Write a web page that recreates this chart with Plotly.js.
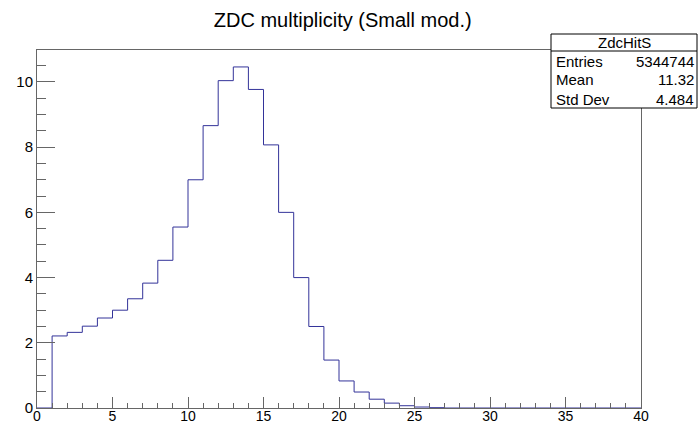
<!DOCTYPE html>
<html>
<head>
<meta charset="utf-8">
<script src="https://cdn.plot.ly/plotly-3.0.1.min.js"></script>
<style>html,body{margin:0;padding:0;background:#fff;}#plot{width:698px;height:424px;}</style>
</head>
<body>
<div id="plot"></div>
<script>
// Histogram bin edges (0..40, width 1) and bin contents
const binEdges = Array.from({length: 41}, (_, i) => i);
const binValues = [0, 2.21, 2.32, 2.51, 2.76, 3.00, 3.35, 3.83, 4.53, 5.55,
  7.00, 8.66, 10.04, 10.46, 9.77, 8.07, 6.00, 4.00, 2.50, 1.47,
  0.83, 0.49, 0.27, 0.15, 0.07, 0.03, 0.01, 0, 0, 0,
  0, 0, 0, 0, 0, 0, 0, 0, 0, 0];
const titleText = "ZDC multiplicity (Small mod.)";
const statsName = "ZdcHitS";
const statsLabels = ["Entries", "Mean", "Std Dev"];
const statsValues = ["5344744", "11.32", "4.484"];

const xs = binEdges;
const ys = binValues.concat([binValues[binValues.length - 1]]);

const font = "Liberation Sans, Arial, Helvetica, sans-serif";
const frameColor = "#666";

const trace = {
  x: xs, y: ys, type: "scatter", mode: "lines",
  line: {shape: "hv", color: "#333399", width: 1},
  hoverinfo: "skip"
};

// Stats box geometry (paper coordinates)
const W = 698, H = 424, ml = 37, mr = 57, mt = 50, mb = 16;
const pw = W - ml - mr, ph = H - mt - mb;
const px = v => (v - ml) / pw;
const py = v => (H - mb - v) / ph;

const bx0 = 551, bx1 = 697, by0 = 34, by1 = 108, bySep = 51;
const shapes = [
  {type: "rect", xref: "paper", yref: "paper", x0: px(bx0), x1: px(bx1), y0: py(by1), y1: py(by0),
   fillcolor: "#fff", line: {color: "#000", width: 1}, layer: "above"},
  {type: "line", xref: "paper", yref: "paper", x0: px(bx0), x1: px(bx1), y0: py(bySep), y1: py(bySep),
   line: {color: "#000", width: 1}, layer: "above"}
];
const rowY = [62, 80, 99];
const annotations = [
  {xref: "paper", yref: "paper", x: px((bx0 + bx1) / 2), y: py(42.5), text: statsName, showarrow: false,
   xanchor: "center", yanchor: "middle", font: {family: font, size: 15, color: "#000"}}
];
statsLabels.forEach((lab, i) => {
  annotations.push({xref: "paper", yref: "paper", x: px(bx0 + 3), y: py(rowY[i]), text: lab, showarrow: false,
    xanchor: "left", yanchor: "middle", font: {family: font, size: 15, color: "#000"}});
  annotations.push({xref: "paper", yref: "paper", x: px(bx1 - 1), y: py(rowY[i]), text: statsValues[i], showarrow: false,
    xanchor: "right", yanchor: "middle", font: {family: font, size: 15, color: "#000"}});
});

const layout = {
  width: W, height: H,
  margin: {l: ml, r: mr, t: mt, b: mb, pad: 0},
  paper_bgcolor: "#fff", plot_bgcolor: "#fff",
  showlegend: false,
  title: {text: titleText, x: 0.491, xanchor: "center", y: 0.953, yanchor: "middle",
          font: {family: font, size: 20, color: "#000"}},
  xaxis: {
    range: [0, 40], showgrid: false, zeroline: false,
    showline: true, mirror: true, linecolor: frameColor, linewidth: 1,
    ticks: "inside", tickcolor: frameColor, ticklen: 11, dtick: 5, tick0: 0,
    minor: {dtick: 1, ticks: "inside", ticklen: 5, tickcolor: frameColor},
    tickfont: {family: font, size: 14, color: "#000"}, ticklabelstandoff: -5
  },
  yaxis: {
    range: [0, 10.98], showgrid: false, zeroline: false,
    showline: true, mirror: true, linecolor: frameColor, linewidth: 1,
    ticks: "inside", tickcolor: frameColor, ticklen: 18, dtick: 2, tick0: 0,
    minor: {dtick: 0.5, ticks: "inside", ticklen: 9, tickcolor: frameColor},
    tickfont: {family: font, size: 15, color: "#000"}, ticklabelstandoff: 0
  },
  shapes: shapes,
  annotations: annotations
};

Plotly.newPlot("plot", [trace], layout, {displayModeBar: false, staticPlot: true});
</script>
</body>
</html>
